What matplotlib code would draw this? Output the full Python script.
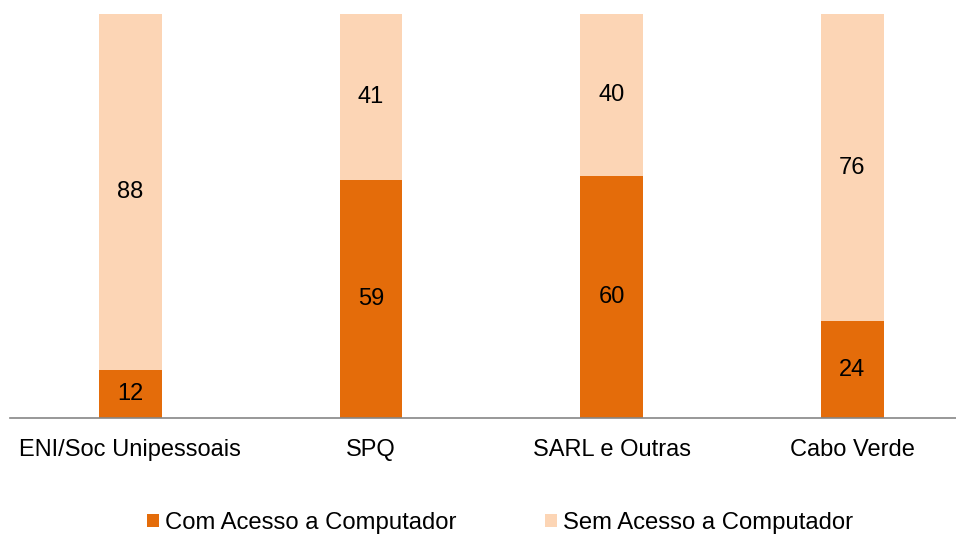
import matplotlib
matplotlib.use("Agg")
import matplotlib.pyplot as plt
import numpy as np

plt.rcParams["font.family"] = ["Liberation Sans", "DejaVu Sans"]

# dados
categorias = ["ENI/Soc Unipessoais", "SPQ", "SARL e Outras", "Cabo Verde"]
com_acesso = [12, 59, 60, 24]
sem_acesso = [88, 41, 40, 76]

cor_com = "#E46C0A"
cor_sem = "#FCD5B5"

W, H = 956, 535
fig = plt.figure(figsize=(W / 100, H / 100), dpi=100)
ax = fig.add_axes([10 / W, (H - 418) / H, 946 / W, 404 / H])

x = np.arange(len(categorias))
larg = 0.26
b1 = ax.bar(x, com_acesso, width=larg, color=cor_com, label="Com Acesso a Computador")
b2 = ax.bar(x, sem_acesso, width=larg, bottom=com_acesso, color=cor_sem,
            label="Sem Acesso a Computador")

for i in range(len(categorias)):
    ax.text(x[i], com_acesso[i] / 2, str(com_acesso[i]), ha="center", va="center",
            fontsize=17, color="black")
    ax.text(x[i], com_acesso[i] + sem_acesso[i] / 2, str(sem_acesso[i]),
            ha="center", va="center", fontsize=17, color="black")

ax.set_xlim(-0.5, -0.5 + 946 / 240.7)
ax.set_ylim(0, 100)
ax.set_xticks(x)
ax.set_xticklabels(categorias, fontsize=17)
ax.tick_params(axis="x", length=0, pad=15)
ax.set_yticks([])
for s in ["top", "right", "left"]:
    ax.spines[s].set_visible(False)
ax.spines["bottom"].set_color("#868686")
ax.spines["bottom"].set_linewidth(1.2)

fig.legend(handles=[b1, b2], loc="center", bbox_to_anchor=(0.523, (H - 523) / H),
           ncol=2, frameon=False, fontsize=17.2, handlelength=0.5, handleheight=0.5,
           handletextpad=0.25, columnspacing=3.7)

fig.savefig("out.png", dpi=100)
